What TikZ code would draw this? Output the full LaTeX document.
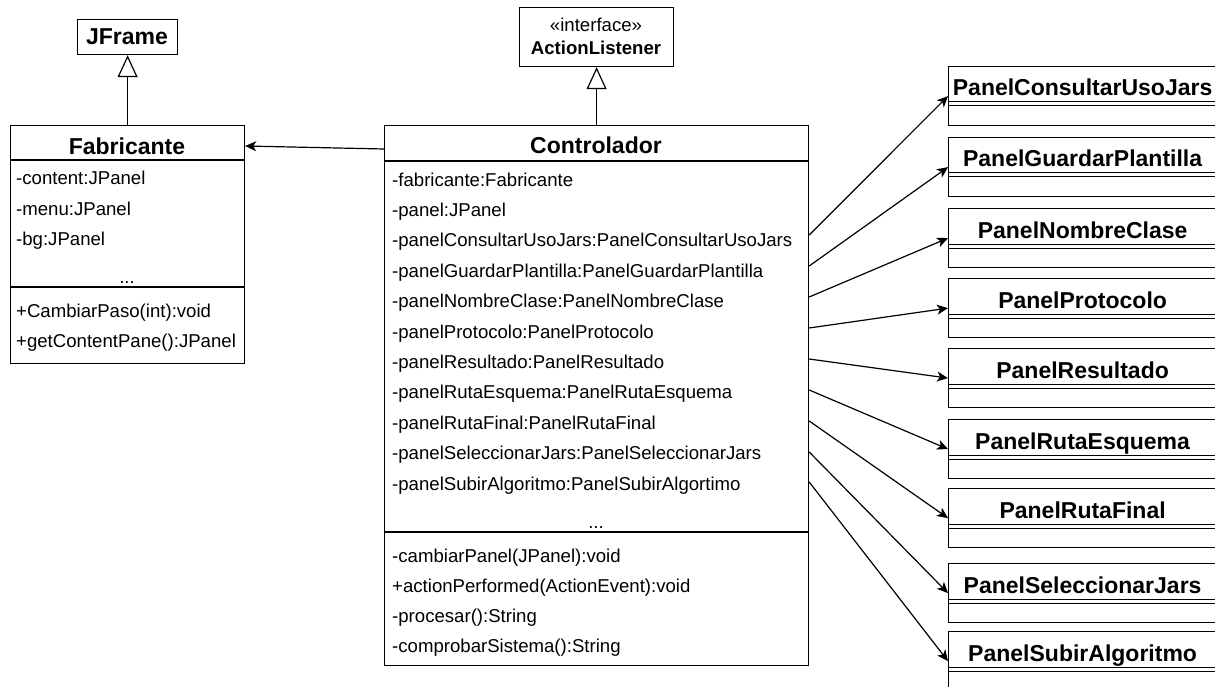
\documentclass[tikz,border=0pt]{standalone}
\usepackage{fontspec}
\setmainfont{Liberation Sans}
\usetikzlibrary{arrows.meta,calc}
\tikzset{
  box/.style={draw, line width=1.2pt, inner sep=0pt, anchor=north west, rectangle},
  ttl/.style={font=\bfseries\fontsize{23}{27}\selectfont, inner sep=0pt, anchor=base},
  ttlsmall/.style={font=\bfseries\fontsize{18.6}{22}\selectfont, inner sep=0pt, anchor=base},
  plain/.style={font=\fontsize{18.6}{22}\selectfont, inner sep=0pt, anchor=base},
  attr/.style={font=\fontsize{18.6}{22}\selectfont, inner sep=0pt, anchor=base west},
  sep/.style={line width=1.2pt},
  dbl/.style={line width=1pt},
  inh/.style={line width=1.2pt, -{Triangle[fill=white,length=22pt,width=20pt]}},
  assoc/.style={line width=1.2pt, -{Stealth[length=11pt,width=10pt,inset=3pt]}},
}
\begin{document}
\begin{tikzpicture}[x=1pt,y=-1pt]
\useasboundingbox (0,0) rectangle (1215,687);
\clip (0,0) rectangle (1215,687);

% JFrame
\node[box, minimum width=100pt, minimum height=35pt] (jf) at (77,19) {};
\node[ttl] (jft) at (127,45) {JFrame};

% ActionListener
\node[box, minimum width=154pt, minimum height=59pt] (al) at (519,7) {};
\node[plain] (alst) at (596,32) {«interface»};
\node[ttlsmall] (alt) at (596,55) {ActionListener};

% Fabricante
\node[box, minimum width=234pt, minimum height=238pt] (fab) at (10,125) {};
\node[ttl] (fabt) at (127,155) {Fabricante};
\draw[sep] ($(fab.north west)+(0,35)$) -- ($(fab.north east)+(0,35)$);
\node[attr] (fa1) at (16,185) {-content:JPanel};
\node[attr] (fa2) at (16,215) {-menu:JPanel};
\node[attr] (fa3) at (16,245) {-bg:JPanel};
\node[plain] (fa4) at (127,283) {...};
\draw[sep] ($(fab.north west)+(0,162)$) -- ($(fab.north east)+(0,162)$);
\node[attr] (fm1) at (16,317) {+CambiarPaso(int):void};
\node[attr] (fm2) at (16,347) {+getContentPane():JPanel};

% Controlador
\node[box, minimum width=424pt, minimum height=540pt] (ctrl) at (384,125) {};
\node[ttl] (ctrlt) at (596,154) {Controlador};
\draw[sep] ($(ctrl.north west)+(0,36)$) -- ($(ctrl.north east)+(0,36)$);
\foreach \i/\txt in {0/-fabricante:Fabricante,
  1/-panel:JPanel,
  2/-panelConsultarUsoJars:PanelConsultarUsoJars,
  3/-panelGuardarPlantilla:PanelGuardarPlantilla,
  4/-panelNombreClase:PanelNombreClase,
  5/-panelProtocolo:PanelProtocolo,
  6/-panelResultado:PanelResultado,
  7/-panelRutaEsquema:PanelRutaEsquema,
  8/-panelRutaFinal:PanelRutaFinal,
  9/-panelSeleccionarJars:PanelSeleccionarJars,
  10/-panelSubirAlgoritmo:PanelSubirAlgortimo} {
  \node[attr] (ca\i) at (392,186+30.4*\i) {\txt};
}
\node[plain] (cdots) at (596,528) {...};
\draw[sep] ($(ctrl.north west)+(0,407)$) -- ($(ctrl.north east)+(0,407)$);
\node[attr] (cm1) at (392,562) {-cambiarPanel(JPanel):void};
\node[attr] (cm2) at (392,592) {+actionPerformed(ActionEvent):void};
\node[attr] (cm3) at (392,622) {-procesar():String};
\node[attr] (cm4) at (392,652) {-comprobarSistema():String};

% inheritance
\draw[inh] (fab.north) -- (jf.south);
\draw[inh] (ctrl.north) -- (al.south);

% association to Fabricante
\draw[assoc] ($(ctrl.north west)+(0,24)$) -- ($(fab.north east)+(0,21)$);

% panels
\foreach \n/\t/\s/\txt in {
  pA/66/110/PanelConsultarUsoJars,
  pB/137/141/PanelGuardarPlantilla,
  pC/208/172/PanelNombreClase,
  pD/278/203/PanelProtocolo,
  pE/348/234/PanelResultado,
  pF/419/265/PanelRutaEsquema,
  pG/488/296/PanelRutaFinal,
  pH/563/327/PanelSeleccionarJars,
  pI/631/357/PanelSubirAlgoritmo} {
  \node[box, minimum width=268pt, minimum height=59pt] (\n) at (948,\t) {};
  \node[ttl] (\n-t) at ($(\n.north)+(0,30)$) {\txt};
  \draw[dbl] ($(\n.north west)+(0,36)$) -- ($(\n.north east)+(0,36)$);
  \draw[dbl] ($(\n.north west)+(0,40)$) -- ($(\n.north east)+(0,40)$);
  \draw[assoc] ($(ctrl.north east)+(0,\s)$) -- (\n.west);
}
\end{tikzpicture}
\end{document}
